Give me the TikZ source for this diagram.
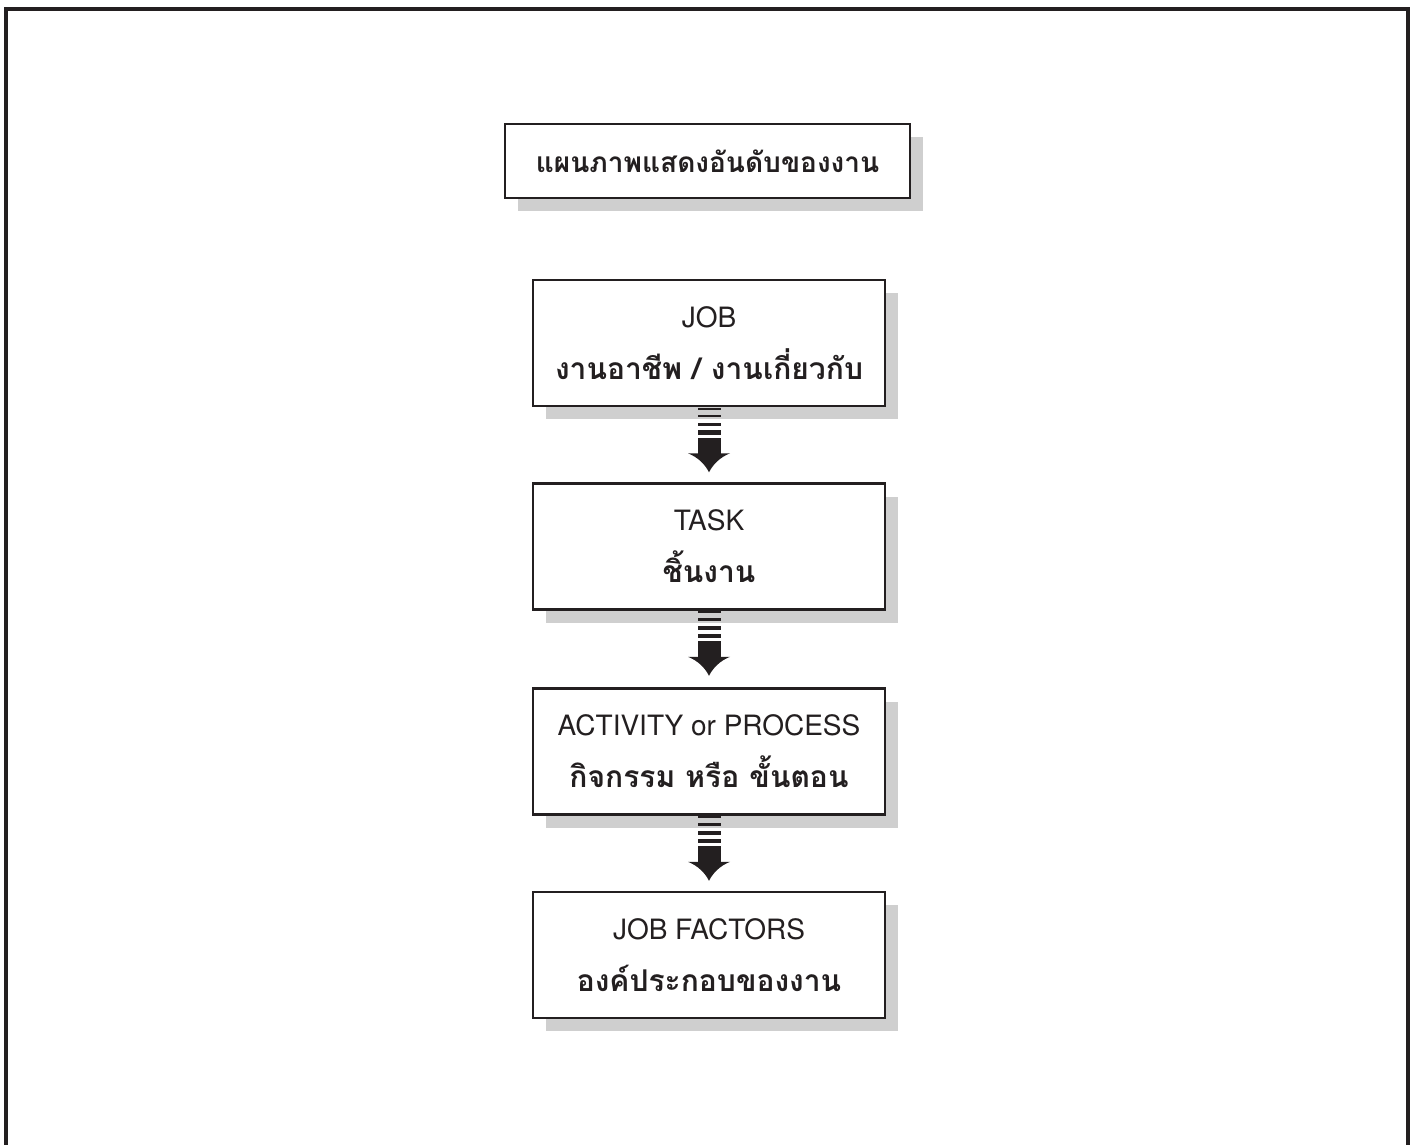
\documentclass[tikz,border=0pt]{standalone}
\usepackage{fontspec}
\setmainfont{TeX Gyre Heros}
\newfontfamily\thaifont[Script=Thai]{Loma}
\usetikzlibrary{shadows,calc}

\definecolor{ink}{HTML}{231F20}
\definecolor{shade}{HTML}{CFCFCF}

% Thai line inside the step boxes
\newcommand\thailine{\thaifont\bfseries\fontsize{30}{52}\selectfont}

\tikzset{
  every node/.style={text=ink},
  stepbox/.style={draw=ink, line width=2.6pt, fill=white,
    minimum width=352pt, minimum height=126pt, inner sep=0pt,
    align=center, font=\fontsize{28}{52}\selectfont,
    general shadow={fill=shade, draw=none, shadow xshift=13pt, shadow yshift=-13pt}},
  titlebox/.style={stepbox, minimum width=405pt, minimum height=74pt,
    font=\thaifont\bfseries\fontsize{28}{34}\selectfont},
  frameline/.style={draw=ink, line width=4pt},
}

% striped block arrow hanging below node #1 and pointing at node #2
\newcommand\stripedarrow[2]{%
  \begin{scope}[shift={($(#1.south)!0!(#2.north)$)}]
    \fill[ink] (-11.5,0.5) rectangle (11.5,2.5);
    \fill[ink] (-11.5,7.5) rectangle (11.5,10);
    \fill[ink] (-11.5,15.5) rectangle (11.5,19);
    \fill[ink] (-11.5,23) rectangle (11.5,27.5);
    \fill[ink] (-11.5,30.5) rectangle (11.5,47);
    \fill[ink] (-21,46) .. controls (-11,50) and (-4,57) .. (0,65)
               .. controls (4,57) and (11,50) .. (21,46) -- cycle;
  \end{scope}}

\begin{document}
\begin{tikzpicture}[x=1pt, y=-1pt]
  \useasboundingbox (0,0) rectangle (1415,1144);
  \begin{scope}
    \clip (0,0) rectangle (1415,1144);
    \draw[frameline] (6,9) -- (1408,9) -- (1408,1170) -- (6,1170) -- cycle;
  \end{scope}

  \node[titlebox] (title) at (707.5,161) {แผนภาพแสดงอันดับของงาน};
  \node[stepbox] (job) at (709,343) {JOB\\\thailine งานอาชีพ / งานเกี่ยวกับ};
  \node[stepbox] (task) at (709,546.5) {TASK\\\thailine ชิ้นงาน};
  \node[stepbox] (act) at (709,751.5) {ACTIVITY or PROCESS\\\thailine กิจกรรม หรือ ขั้นตอน};
  \node[stepbox] (fac) at (709,955) {JOB FACTORS\\\thailine องค์ประกอบของงาน};

  \stripedarrow{job}{task}
  \stripedarrow{task}{act}
  \stripedarrow{act}{fac}
\end{tikzpicture}
\end{document}
